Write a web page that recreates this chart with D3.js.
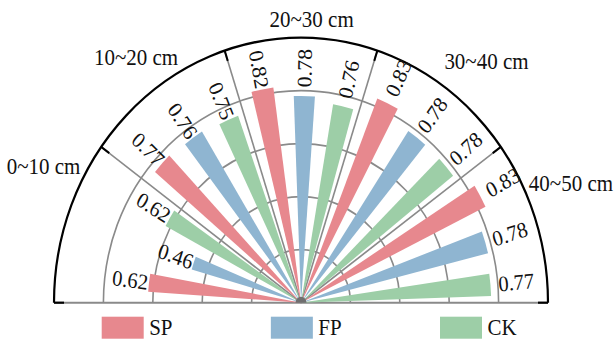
<!DOCTYPE html>
<html>
<head>
<meta charset="utf-8">
<script src="https://cdn.jsdelivr.net/npm/d3@7"></script>
<style>
  html, body { margin: 0; padding: 0; background: #fff; }
  svg { display: block; }
  text { font-family: "Liberation Serif", "Times New Roman", serif; fill: #111; }
</style>
</head>
<body>
<script>
// ---- data ----
const categories = ["0~10 cm", "10~20 cm", "20~30 cm", "30~40 cm", "40~50 cm"];
const seriesNames = ["SP", "FP", "CK"];
const SP = [0.62, 0.77, 0.82, 0.83, 0.83];
const FP = [0.46, 0.76, 0.78, 0.78, 0.78];
const CK = [0.62, 0.75, 0.76, 0.78, 0.77];
const gridTicks = [0.2, 0.4, 0.6, 0.8, 1.0];

// ---- layout / style ----
const W = 616, H = 340;
const cx = 301, cy = 302.7, sy = 1.073, R = 247;
const colors = { SP: "#E7888E", FP: "#8FB5D1", CK: "#9DCEA7" };
const barRotate = 1; // degrees
// category label placement (math angle in degrees, radius)
const catLabelPos = [[153.8, 287], [125.8, 282], [87.7, 264], [50.4, 291], [22.4, 292]];

const seriesValues = { SP, FP, CK };
const rows = [];
categories.forEach((c, i) => seriesNames.forEach(s => rows.push({ cat: c, ser: s, value: seriesValues[s][i], key: c + "|" + s })));

const svg = d3.select("body").append("svg").attr("width", W).attr("height", H);
const g = svg.append("g").attr("transform", `translate(${cx},${cy}) scale(1,${sy})`);

const r = d3.scaleLinear().domain([0, 1]).range([0, R]);
const band = d3.scaleBand().domain(rows.map(d => d.key)).range([-90, 90]).paddingInner(0.475).paddingOuter(0.2375);
const sector = d3.scaleBand().domain(categories).range([-90, 90]);
const deg = Math.PI / 180;
const grey = "#8a8a8a";

// grid circles
gridTicks.filter(t => t < 1).forEach(t => {
  const p = d3.path();
  p.arc(0, 0, r(t), Math.PI, 2 * Math.PI);
  g.append("path").attr("d", p.toString()).attr("fill", "none").attr("stroke", grey).attr("stroke-width", 1.6);
});

// radial lines at sector boundaries
const boundaries = categories.slice(1).map(c => sector(c));
boundaries.forEach(a => {
  g.append("line").attr("x1", 0).attr("y1", 0)
    .attr("x2", R * Math.sin(a * deg)).attr("y2", -R * Math.cos(a * deg))
    .attr("stroke", grey).attr("stroke-width", 1.6);
});
// baseline
g.append("line").attr("x1", -R).attr("y1", 0).attr("x2", R).attr("y2", 0)
  .attr("stroke", grey).attr("stroke-width", 1.8);

// bars
const arc = d3.arc().innerRadius(0);
g.selectAll("path.bar").data(rows).join("path").attr("class", "bar")
  .attr("d", d => arc({
    outerRadius: r(d.value),
    startAngle: (band(d.key) + barRotate) * deg,
    endAngle: (band(d.key) + band.bandwidth() + barRotate) * deg
  }))
  .attr("fill", d => colors[d.ser]);

// hub
g.append("path").attr("d", d3.arc()({ innerRadius: 0, outerRadius: 5.5, startAngle: -Math.PI / 2, endAngle: Math.PI / 2 }))
  .attr("fill", "#6f6f6f");

// outer arc
{
  const p = d3.path();
  p.arc(0, 0, R, Math.PI, 2 * Math.PI);
  g.append("path").attr("d", p.toString()).attr("fill", "none").attr("stroke", "#000").attr("stroke-width", 2.2);
}
// black ticks at outer arc
[-90, ...boundaries, 90].forEach(a => {
  g.append("line")
    .attr("x1", (R - 10) * Math.sin(a * deg)).attr("y1", -(R - 10) * Math.cos(a * deg))
    .attr("x2", R * Math.sin(a * deg)).attr("y2", -R * Math.cos(a * deg))
    .attr("stroke", "#000").attr("stroke-width", 2);
});

// value labels
g.selectAll("text.val").data(rows).join("text").attr("class", "val")
  .each(function (d) {
    const a = band(d.key) + band.bandwidth() / 2 + barRotate;
    const left = a < 0;
    const rr = r(d.value) + (left ? 1 : 8);
    const x = rr * Math.sin(a * deg), y = -rr * Math.cos(a * deg);
    d3.select(this)
      .attr("transform", `translate(${x},${y}) rotate(${left ? a + 90 : a - 90})`)
      .attr("text-anchor", left ? "end" : "start")
      .attr("dominant-baseline", "central")
      .attr("font-size", 20.5)
      .text(d3.format(".2f")(d.value));
  });

// category labels
g.selectAll("text.cat").data(categories).join("text").attr("class", "cat")
  .attr("x", (d, i) => catLabelPos[i][1] * Math.cos(catLabelPos[i][0] * deg))
  .attr("y", (d, i) => -catLabelPos[i][1] * Math.sin(catLabelPos[i][0] * deg))
  .attr("text-anchor", "middle")
  .attr("dominant-baseline", "central")
  .attr("font-size", 21)
  .text(d => d);

// legend
const legendX = d3.scalePoint().domain(seriesNames).range([101.7, 440]);
const lg = svg.append("g");
const items = lg.selectAll("g").data(seriesNames).join("g")
  .attr("transform", d => `translate(${legendX(d)},316.7)`);
items.append("rect").attr("width", 42).attr("height", 22).attr("fill", d => colors[d]);
items.append("text").attr("transform", "translate(47.5,17.8) scale(1,1.12)").attr("font-size", 21).text(d => d);
</script>
</body>
</html>
